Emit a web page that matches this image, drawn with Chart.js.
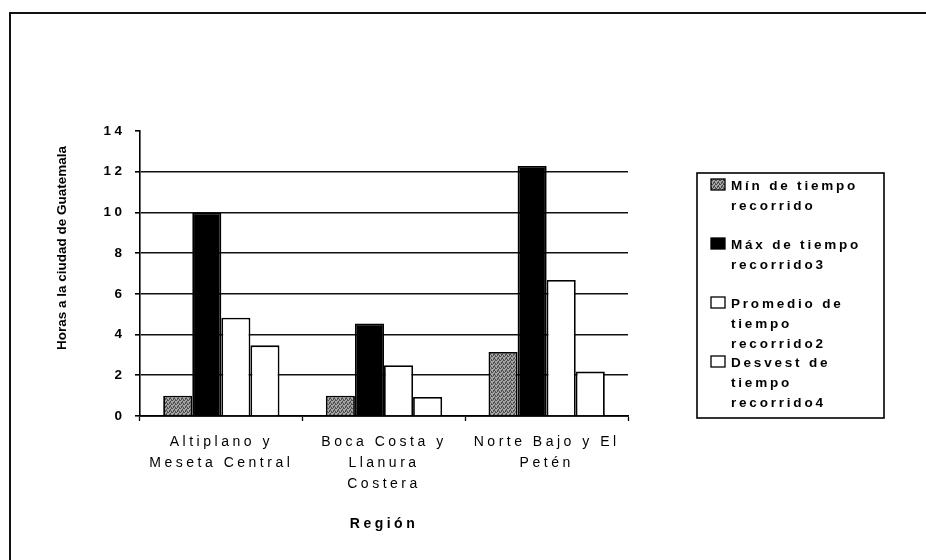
<!DOCTYPE html>
<html>
<head>
<meta charset="utf-8">
<script src="https://cdn.jsdelivr.net/npm/chart.js@4/dist/chart.umd.min.js"></script>
<style>
  html, body { margin: 0; padding: 0; background: #fff; }
  #wrap { width: 926px; height: 560px; position: relative; }
</style>
</head>
<body>
<div id="wrap"><canvas id="c"></canvas></div>
<script>
// data
const categories = [
  ['Altiplano y', 'Meseta Central'],
  ['Boca Costa y', 'Llanura', 'Costera'],
  ['Norte Bajo y El', 'Petén']
];
const minTiempo = [1.0, 1.0, 3.15];
const maxTiempo = [10.0, 4.55, 12.28];
const promTiempo = [4.83, 2.49, 6.68];
const desvTiempo = [3.47, 0.93, 2.18];

const seriesLines = [
  ['Mín de tiempo', 'recorrido'],
  ['Máx de tiempo', 'recorrido3'],
  ['Promedio de', 'tiempo', 'recorrido2'],
  ['Desvest de', 'tiempo', 'recorrido4']
];
const yTitle = 'Horas a la ciudad de Guatemala';
const xTitle = 'Región';

const FONT = '"Liberation Sans", Arial, sans-serif';
const canvas = document.getElementById('c');
const ctx = canvas.getContext('2d');

// grey stipple like the printed "Mín" bars
function stipple() {
  const p = document.createElement('canvas');
  p.width = p.height = 4;
  const g = p.getContext('2d');
  g.fillStyle = '#a6a6a6';
  g.fillRect(0, 0, 4, 4);
  g.fillStyle = '#4e4e4e';
  [[0, 0], [2, 1], [1, 2], [3, 3], [3, 0], [1, 3], [2, 2]].forEach(([x, y]) => g.fillRect(x, y, 1, 1));
  return ctx.createPattern(p, 'repeat');
}

const fills = [stipple(), '#000000', '#ffffff', '#ffffff'];
const values = [minTiempo, maxTiempo, promTiempo, desvTiempo];

const datasets = values.map((v, i) => ({
  label: seriesLines[i].join(' '),
  data: v,
  backgroundColor: fills[i],
  borderColor: '#000',
  borderWidth: 1.8,
  categoryPercentage: 0.715,
  barPercentage: 1.0
}));

const decor = {
  id: 'decor',
  beforeDraw(chart) {
    const c = chart.ctx;
    c.save();
    c.strokeStyle = '#111';
    c.lineWidth = 2;
    c.beginPath();
    c.moveTo(10, 560);
    c.lineTo(10, 13);
    c.lineTo(926, 13);
    c.stroke();
    c.restore();
    c.letterSpacing = '3.5px';
  },
  afterDraw(chart) {
    const c = chart.ctx;
    c.letterSpacing = '0px';

    // y axis title
    c.save();
    c.fillStyle = '#000';
    c.font = 'bold 13.5px ' + FONT;
    c.textAlign = 'center';
    c.textBaseline = 'middle';
    c.translate(62, 248);
    c.rotate(-Math.PI / 2);
    c.fillText(yTitle, 0, 0);
    c.restore();

    // legend box
    c.save();
    c.strokeStyle = '#000';
    c.lineWidth = 1.6;
    c.strokeRect(697, 173, 187, 245);
    c.font = 'bold 13.5px ' + FONT;
    c.letterSpacing = '2.8px';
    c.textBaseline = 'middle';
    chart.data.datasets.forEach((ds, k) => {
      const top = 186 + 59 * k;
      c.fillStyle = ds.backgroundColor;
      c.fillRect(711, top - 7, 14, 11);
      c.lineWidth = 1.3;
      c.strokeRect(711, top - 7, 14, 11);
      c.fillStyle = '#000';
      seriesLines[k].forEach((line, i) => c.fillText(line, 731, top + 20 * i));
    });
    c.letterSpacing = '0px';
    c.restore();
  }
};

new Chart(canvas, {
  type: 'bar',
  data: { labels: categories, datasets },
  options: {
    responsive: true,
    maintainAspectRatio: false,
    animation: false,
    layout: { padding: { left: 10, right: 298, top: 131, bottom: 19 } },
    plugins: {
      legend: { display: false },
      tooltip: { enabled: false }
    },
    scales: {
      x: {
        afterFit: s => { s.height = 125; },
        border: { color: '#000', width: 1.8 },
        grid: {
          offset: true,
          drawOnChartArea: false,
          drawTicks: true,
          tickLength: 5,
          tickColor: '#000',
          tickWidth: 1.3
        },
        ticks: {
          color: '#000',
          maxRotation: 0,
          autoSkip: false,
          padding: 10.5,
          font: { family: FONT, size: 14, lineHeight: 1.5 }
        },
        title: {
          display: true,
          text: xTitle,
          color: '#000',
          font: { family: FONT, size: 14, weight: 'bold', lineHeight: 1.2 },
          padding: { top: 4, bottom: 8 }
        }
      },
      y: {
        min: 0,
        max: 14,
        afterFit: s => { s.width = 130; },
        border: { color: '#000', width: 1.6 },
        grid: {
          color: c => (c.tick && c.tick.value === 14 ? 'rgba(0,0,0,0)' : '#111'),
          lineWidth: 1.6,
          tickLength: 5,
          tickColor: '#000'
        },
        ticks: {
          stepSize: 2,
          color: '#000',
          padding: 9.5,
          font: { family: FONT, size: 13.5, weight: 'bold' }
        }
      }
    }
  },
  plugins: [decor]
});
</script>
</body>
</html>
